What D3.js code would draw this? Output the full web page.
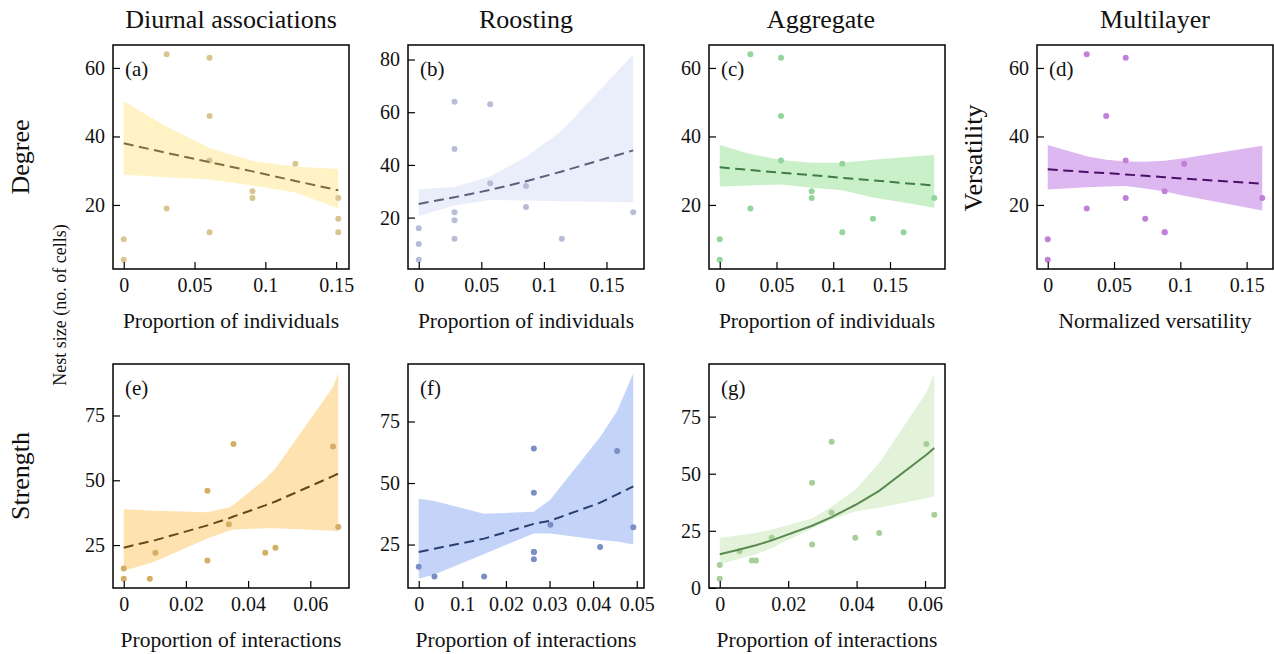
<!DOCTYPE html>
<html lang="en">
<head>
<meta charset="UTF-8" />
<title>Nest size vs network measures</title>
<script src="https://cdn.jsdelivr.net/npm/d3@7"></script>
<style>
  body { margin: 0; background: #fff; }
  svg { font-family: "Liberation Serif", "DejaVu Serif", serif; }
</style>
</head>
<body>
<svg id="chart" width="1274" height="654"></svg>
<script>
// ---- data ----
const colTitles = ["Diurnal associations", "Roosting", "Aggregate", "Multilayer"];
const rowTitles = ["Degree", "Strength"];

// (a) diurnal, degree
const aX = [0.0303, 0.0606, 0.0606, 0.0606, 0.0606, 0.1212, 0.0909, 0.0909, 0.1515, 0.1515, 0.1515, 0.0303, 0, 0];
const aY = [64, 63, 46, 33, 12, 32, 24, 22, 22, 16, 12, 19, 10, 4];
const aFitX = [0, 0.0303, 0.0606, 0.0909, 0.1212, 0.1515];
const aFit = [38, 35.2, 32.5, 29.8, 27, 24.3];
const aLo = [28.8, 28.1, 27.4, 25.7, 23.6, 19];
const aHi = [50.3, 42.8, 36.6, 32.8, 31.2, 30.5];

// (b) roosting, degree
const bX = [0.0286, 0.0571, 0.0286, 0.0571, 0.0857, 0.0857, 0.0286, 0.0286, 0.0286, 0.1143, 0.1714, 0, 0, 0];
const bY = [64, 63, 46, 33, 32, 24, 22, 19, 12, 12, 22, 16, 10, 4];
const bFitX = [0, 0.0286, 0.0571, 0.0857, 0.1143, 0.1714];
const bFit = [25.2, 27.7, 30.5, 33.8, 37.5, 45.5];
const bLo = [20.6, 24.6, 26.7, 26.5, 26.2, 25.8];
const bHi = [30.8, 31.6, 35.6, 43, 53, 82];

// (c) aggregate, degree
const cX = [0.027, 0.054, 0.054, 0.054, 0.027, 0, 0, 0.081, 0.081, 0.108, 0.108, 0.135, 0.162, 0.189];
const cY = [64, 63, 46, 33, 19, 10, 4, 24, 22, 32, 12, 16, 12, 22];
const cFitX = [0, 0.027, 0.054, 0.081, 0.108, 0.135, 0.162, 0.189];
const cFit = [31, 30.2, 29.4, 28.7, 27.9, 27.2, 26.4, 25.7];
const cLo = [25.4, 25.7, 26, 25, 24.3, 22.2, 20.7, 19.2];
const cHi = [37.5, 34.9, 33.1, 32.3, 32.3, 33.2, 33.9, 34.6];

// (d) multilayer, versatility
const dX = [0.0294, 0.0588, 0.0441, 0.0588, 0.0588, 0.0294, 0, 0, 0.0735, 0.0882, 0.0882, 0.0882, 0.1029, 0.1618];
const dY = [64, 63, 46, 33, 22, 19, 10, 4, 16, 24, 12, 12, 32, 22];
const dFitX = [0, 0.0294, 0.0441, 0.0588, 0.0735, 0.0882, 0.1029, 0.1618];
const dFit = [30.4, 29.6, 29.3, 28.9, 28.5, 28.1, 27.7, 26.2];
const dLo = [24.5, 25.2, 25.4, 25.5, 24.8, 23.9, 22.7, 18.4];
const dHi = [37.5, 34.2, 33.2, 32.7, 32.6, 32.9, 33.6, 37.3];

// (e) diurnal, strength
const eX = [0, 0, 0.0084, 0.0102, 0.0269, 0.0269, 0.0338, 0.0353, 0.0455, 0.0488, 0.0673, 0.069];
const eY = [16, 12, 12, 22, 46, 19, 33, 64, 22, 24, 63, 32];
const eFitX = [0, 0.0084, 0.0102, 0.0269, 0.0338, 0.0353, 0.0455, 0.0488, 0.0673, 0.069];
const eFit = [24, 26.4, 26.9, 32.6, 35.3, 36, 40.3, 41.8, 51.6, 52.6];
const eLo = [15.1, 18, 18.8, 27.5, 30.5, 31, 31.5, 31.5, 30.5, 30.3];
const eHi = [38.8, 38.3, 38.2, 37.7, 39.5, 40.5, 50.5, 54.5, 86, 91.3];

// (f) roosting, strength
const fX = [0, 0.0036, 0.015, 0.0264, 0.0264, 0.0264, 0.0264, 0.0264, 0.0302, 0.0416, 0.0455, 0.0492];
const fY = [16, 12, 12, 64, 46, 22, 22, 19, 33, 24, 63, 32];
const fFitX = [0, 0.0036, 0.015, 0.0264, 0.0302, 0.0416, 0.0455, 0.0492];
const fFit = [22, 23.3, 27.4, 33.4, 34.7, 42, 45.4, 48.6];
const fLo = [11.1, 12.8, 21.2, 29.5, 29.5, 26.8, 26.2, 25];
const fHi = [43.6, 42.7, 37.5, 38.3, 43.3, 68.7, 79.3, 94.6];

// (g) aggregate, strength
const gX = [0, 0, 0.0058, 0.0094, 0.0106, 0.0152, 0.027, 0.027, 0.0327, 0.0327, 0.0396, 0.0466, 0.0604, 0.0627];
const gY = [10, 4, 16, 12, 12, 22, 46, 19, 64, 33, 22, 24, 63, 32];
const gFitX = [0, 0.0058, 0.0094, 0.0106, 0.0152, 0.027, 0.0327, 0.0396, 0.0466, 0.0604, 0.0627];
const gFit = [14.7, 16.8, 18.2, 18.7, 20.8, 27.2, 31, 36.3, 42.5, 58.3, 61.3];
const gLo = [10.3, 12.8, 14.3, 14.6, 17.5, 26, 29.8, 33.4, 35.1, 39.3, 40];
const gHi = [22, 23.1, 23.8, 24, 25.6, 30.4, 35.6, 43, 54.7, 85.6, 94];

// tick values / labels
const xTicksDeg = [0, 0.05, 0.1, 0.15];
const xLabelsDeg = ["0", "0.05", "0.1", "0.15"];
const xTicksStr = [0, 0.02, 0.04, 0.06];
const xLabelsStr = ["0", "0.02", "0.04", "0.06"];
const xTicksF = [0, 0.01, 0.02, 0.03, 0.04, 0.05];
const xLabelsF = ["0", "0.1", "0.02", "0.03", "0.04", "0.05"];
const yTicksDeg = [20, 40, 60];
const yTicksB = [20, 40, 60, 80];
const yTicksStr = [25, 50, 75];
const yTicksG = [0, 25, 50, 75];

// ---- layout ----
const colX = [113, 408, 709, 1037];
const rowY = [45, 364];
const pw = 236, ph = 224;

const svg = d3.select("#chart");

const panels = [
  { tag: "(a)", col: 0, row: 0, x: aX, y: aY, fx: aFitX, fit: aFit, lo: aLo, hi: aHi,
    xt: xTicksDeg, xl: xLabelsDeg, yt: yTicksDeg, xlab: "Proportion of individuals",
    band: "#fff3c6", pt: "#d9c591", line: "#7a7142", dash: true },
  { tag: "(b)", col: 1, row: 0, x: bX, y: bY, fx: bFitX, fit: bFit, lo: bLo, hi: bHi,
    xt: xTicksDeg, xl: xLabelsDeg, yt: yTicksB, xlab: "Proportion of individuals",
    band: "#eaeefb", pt: "#b8bdd7", line: "#5c607a", dash: true },
  { tag: "(c)", col: 2, row: 0, x: cX, y: cY, fx: cFitX, fit: cFit, lo: cLo, hi: cHi,
    xt: xTicksDeg, xl: xLabelsDeg, yt: yTicksDeg, xlab: "Proportion of individuals",
    band: "#caf0ca", pt: "#93d59b", line: "#3e7d44", dash: true },
  { tag: "(d)", col: 3, row: 0, x: dX, y: dY, fx: dFitX, fit: dFit, lo: dLo, hi: dHi,
    xt: xTicksDeg, xl: xLabelsDeg, yt: yTicksDeg, xlab: "Normalized versatility",
    band: "#ddb7ef", pt: "#c180d8", line: "#4a1068", dash: true, ylab: "Versatility" },
  { tag: "(e)", col: 0, row: 1, x: eX, y: eY, fx: eFitX, fit: eFit, lo: eLo, hi: eHi,
    xt: xTicksStr, xl: xLabelsStr, yt: yTicksStr, xlab: "Proportion of interactions",
    band: "#fee3b1", pt: "#d5ae66", line: "#664a12", dash: true },
  { tag: "(f)", col: 1, row: 1, x: fX, y: fY, fx: fFitX, fit: fFit, lo: fLo, hi: fHi,
    xt: xTicksF, xl: xLabelsF, yt: yTicksStr, xlab: "Proportion of interactions",
    band: "#c4d4f9", pt: "#7b8fc5", line: "#2b3e72", dash: true },
  { tag: "(g)", col: 2, row: 1, x: gX, y: gY, fx: gFitX, fit: gFit, lo: gLo, hi: gHi,
    xt: xTicksStr, xl: xLabelsStr, yt: yTicksG, xlab: "Proportion of interactions",
    band: "#e3f3da", pt: "#a8ce9a", line: "#5b8a50", dash: false }
];

function pad(ext, f) {
  const d = (ext[1] - ext[0]) * f;
  return [ext[0] - d, ext[1] + d];
}

panels.forEach(p => {
  const left = colX[p.col], top = rowY[p.row];
  const g = svg.append("g").attr("transform", `translate(${left},${top})`);

  const xs = pad(d3.extent(p.x.concat(p.fx)), 0.05);
  const ys = pad(d3.extent(p.y.concat(p.lo, p.hi)), 0.045);
  const x = d3.scaleLinear().domain(xs).range([0, pw]);
  const y = d3.scaleLinear().domain(ys).range([ph, 0]);

  const fitData = p.fx.map((v, i) => ({ x: v, m: p.fit[i], lo: p.lo[i], hi: p.hi[i] }));

  g.append("path")
    .datum(fitData)
    .attr("d", d3.area().x(d => x(d.x)).y0(d => y(d.lo)).y1(d => y(d.hi)))
    .attr("fill", p.band);

  g.selectAll("circle")
    .data(p.x.map((v, i) => [v, p.y[i]]))
    .join("circle")
    .attr("cx", d => x(d[0]))
    .attr("cy", d => y(d[1]))
    .attr("r", 3)
    .attr("fill", p.pt);

  g.append("path")
    .datum(fitData)
    .attr("d", d3.line().x(d => x(d.x)).y(d => y(d.m)))
    .attr("fill", "none")
    .attr("stroke", p.line)
    .attr("stroke-width", 2)
    .attr("stroke-dasharray", p.dash ? "10,5.5" : null);

  const xa = g.append("g")
    .attr("transform", `translate(0,${ph})`)
    .call(d3.axisBottom(x).tickValues(p.xt).tickFormat((d, i) => p.xl[i])
      .tickSize(-7).tickPadding(9));
  const ya = g.append("g")
    .call(d3.axisLeft(y).tickValues(p.yt).tickFormat(d => d)
      .tickSize(-7).tickPadding(8));
  [xa, ya].forEach(a => {
    a.select(".domain").remove();
    a.selectAll("line").attr("stroke", "#000").attr("stroke-width", 1.2);
    a.selectAll("text").attr("font-size", 20).attr("fill", "#111")
      .attr("font-family", "Liberation Serif");
  });

  g.append("rect")
    .attr("width", pw).attr("height", ph)
    .attr("fill", "none").attr("stroke", "#000").attr("stroke-width", 1.5);

  g.append("text")
    .attr("x", 12).attr("y", 31)
    .attr("font-size", 21).attr("fill", "#111")
    .text(p.tag);

  g.append("text")
    .attr("x", pw / 2).attr("y", ph + 59)
    .attr("text-anchor", "middle")
    .attr("font-size", 21.5).attr("fill", "#111")
    .text(p.xlab);

  if (p.ylab) {
    g.append("text")
      .attr("transform", `translate(-55,${ph / 2 + 1}) rotate(-90)`)
      .attr("text-anchor", "middle")
      .attr("font-size", 26).attr("fill", "#111")
      .text(p.ylab);
  }
});

// column titles
colTitles.forEach((t, i) => {
  svg.append("text")
    .attr("x", colX[i] + pw / 2 - (i === 2 ? 6 : 0)).attr("y", 28)
    .attr("text-anchor", "middle")
    .attr("font-size", 26).attr("fill", "#111")
    .text(t);
});

// row titles
rowTitles.forEach((t, i) => {
  svg.append("text")
    .attr("transform", `translate(29,${rowY[i] + ph / 2}) rotate(-90)`)
    .attr("text-anchor", "middle")
    .attr("font-size", 26).attr("fill", "#111")
    .text(t);
});

svg.append("text")
  .attr("transform", "translate(66,305) rotate(-90)")
  .attr("text-anchor", "middle")
  .attr("font-size", 18).attr("fill", "#111")
  .text("Nest size (no. of cells)");
</script>
</body>
</html>
